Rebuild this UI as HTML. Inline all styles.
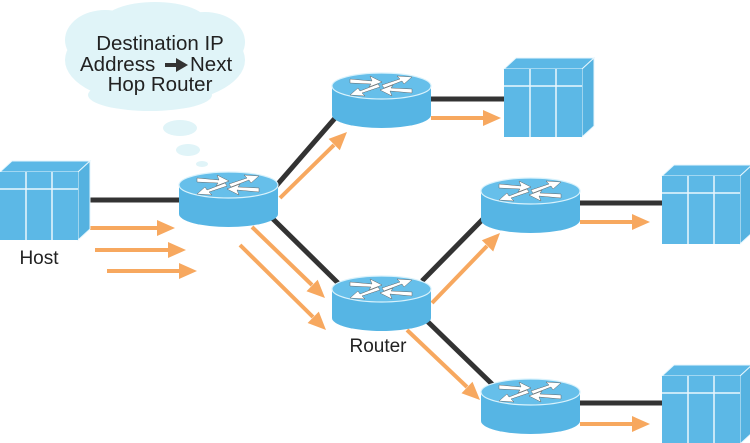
<!DOCTYPE html>
<html><head><meta charset="utf-8"><style>html,body{margin:0;padding:0;background:#fff;width:750px;height:443px;overflow:hidden}</style></head>
<body>
<svg width="750" height="443" viewBox="0 0 750 443" xmlns="http://www.w3.org/2000/svg" font-family="Liberation Sans, sans-serif">
<defs>
<g id="router">
<path d="M0,13 L0,42 A49.5,13 0 0 0 99,42 L99,13 z" fill="#56b5e4"/>
<ellipse cx="49.5" cy="13" rx="49.5" ry="13" fill="#66bfea" stroke="#d8f2fc" stroke-width="1.2"/>
<g fill="#fff" stroke="#666" stroke-width="0.5">
<path d="M18,6 L40,8 L38,3 L50,9 L37,14 L39,11 L18,10z"/>
<path d="M80,20 L58,18 L60,23 L48,17 L61,12 L59,15 L80,16z"/>
<path d="M50,12 L68,6 L65,3 L80,4 L72,11 L70,8 L52,15z"/>
<path d="M48,14 L30,20 L33,23 L18,22 L26,15 L28,18 L46,11z"/>
</g>
</g>
<g id="server">
<path d="M0,11 L12,0 L90,0 L78,11z" fill="#5cb8e6" stroke="#e6f6fd" stroke-width="1"/>
<path d="M78,11 L90,0 L90,68 L78,79z" fill="#55b2e0" stroke="#e6f6fd" stroke-width="1"/>
<rect x="0" y="11" width="78" height="68" fill="#5cb8e6"/>
<g stroke="#e9f7fd" stroke-width="1.5">
<line x1="26" y1="11" x2="26" y2="79"/><line x1="52" y1="11" x2="52" y2="79"/>
<line x1="0" y1="28" x2="78" y2="28"/>
</g>
</g>
</defs>

<g fill="#e0f4f8">
<ellipse cx="155" cy="60" rx="90" ry="44"/>
<ellipse cx="105" cy="40" rx="40" ry="30"/>
<ellipse cx="205" cy="42" rx="40" ry="30"/>
<ellipse cx="155" cy="22" rx="52" ry="20"/>
<ellipse cx="150" cy="95" rx="62" ry="16"/>
<ellipse cx="180" cy="128" rx="17" ry="8"/>
<ellipse cx="188" cy="150" rx="12" ry="6"/>
<ellipse cx="202" cy="164" rx="6" ry="3"/>
</g>
<g font-size="20.5" fill="#222">
<text x="160" y="50" text-anchor="middle">Destination IP</text>
<text x="80" y="71">Address</text>
<text x="190" y="71">Next</text>
<text x="160" y="91" text-anchor="middle">Hop Router</text>
</g>
<path d="M165,63 L176,63 L176,58 L188,65 L176,72 L176,67 L165,67z" fill="#333"/>

<g stroke="#333" stroke-width="5">
<line x1="88" y1="200" x2="180" y2="200"/>
<line x1="270" y1="193" x2="336" y2="117"/>
<line x1="272" y1="218" x2="338" y2="283"/>
<line x1="422" y1="281" x2="484" y2="218"/>
<line x1="426" y1="320" x2="493" y2="385"/>
<line x1="430" y1="99" x2="504" y2="99"/>
<line x1="579" y1="203" x2="662" y2="203"/>
<line x1="579" y1="403" x2="662" y2="403"/>
</g>
<g stroke="#f7a85f" stroke-width="4">
<line x1="90" y1="228" x2="158" y2="228"/>
<line x1="95" y1="250" x2="169" y2="250"/>
<line x1="107" y1="271" x2="180" y2="271"/>
<line x1="280" y1="198" x2="334" y2="145"/>
<line x1="252" y1="227" x2="312" y2="285"/>
<line x1="240" y1="245" x2="313" y2="317"/>
<line x1="432" y1="303" x2="487" y2="246"/>
<line x1="407" y1="330" x2="467" y2="387"/>
<line x1="431" y1="118" x2="484" y2="118"/>
<line x1="580" y1="222" x2="633" y2="222"/>
<line x1="580" y1="424" x2="633" y2="424"/>
</g>
<g fill="#f7a85f">
<polygon points="157,220 175,228 157,236"/>
<polygon points="168,242 186,250 168,258"/>
<polygon points="179,263 197,271 179,279"/>
<polygon points="339.8,150.3 347,132 328.6,138.9"/>
<polygon points="306.5,291.2 325,298 317.7,279.8"/>
<polygon points="307.6,323 326,330 318.8,311.6"/>
<polygon points="493.2,251.5 500,233 481.8,240.3"/>
<polygon points="461.5,393.3 480,400 472.5,381.7"/>
<polygon points="483,110 501,118 483,126"/>
<polygon points="632,214 650,222 632,230"/>
<polygon points="632,416 650,424 632,432"/>
</g>

<use href="#server" x="0" y="161"/>
<use href="#server" x="504" y="58"/>
<use href="#server" x="662" y="165"/>
<use href="#server" x="662" y="365"/>

<use href="#router" x="179" y="172"/>
<use href="#router" x="332" y="73"/>
<use href="#router" x="332" y="276"/>
<use href="#router" x="481" y="178"/>
<use href="#router" x="481" y="379"/>

<text x="39" y="264" font-size="19" fill="#222" text-anchor="middle">Host</text>
<text x="378" y="352" font-size="19" fill="#222" text-anchor="middle">Router</text>
</svg>
</body></html>
